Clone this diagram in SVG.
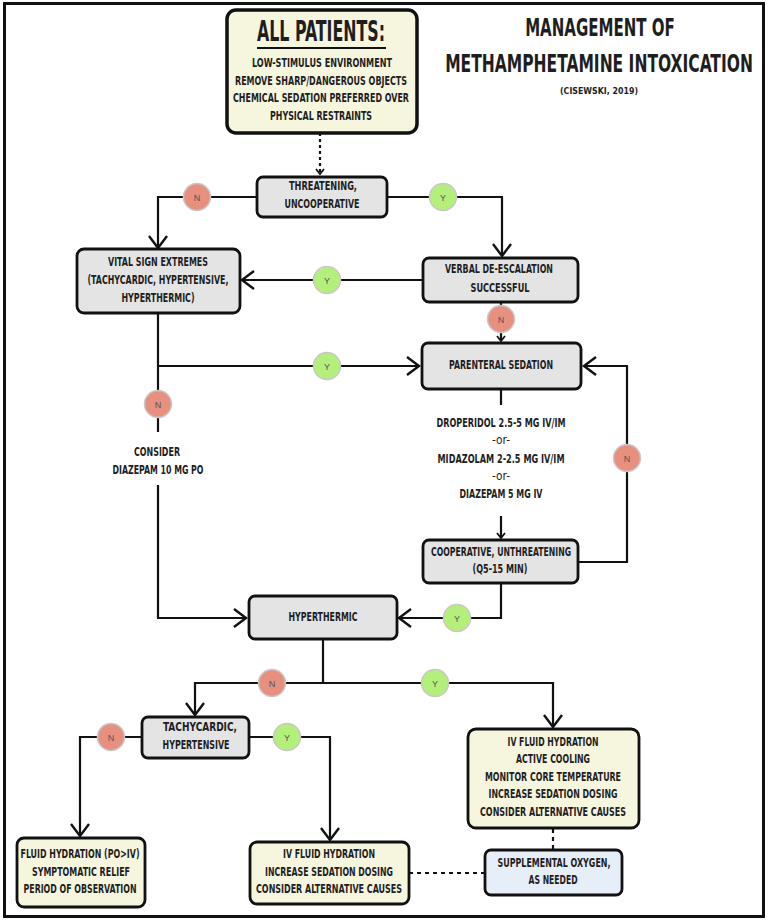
<svg xmlns="http://www.w3.org/2000/svg" width="768" height="922" viewBox="0 0 768 922">
<style>
.t{font-family:"Liberation Sans Narrow","DejaVu Sans Condensed","Liberation Sans",sans-serif;font-weight:bold;font-size:13px;fill:#1e1e1e;text-anchor:middle}
.box{stroke:#111;stroke-width:2.8}
.gray{fill:#e4e4e4}
.cream{fill:#f6f5de}
.blue{fill:#e6eef7}
.ln{fill:none;stroke:#111;stroke-width:2.2}
.dash{fill:none;stroke:#111;stroke-width:2.2;stroke-dasharray:4 4}
.cn{fill:#e8907f;stroke:#c8c8c8;stroke-width:1.5}
.cy{fill:#b4ef7b;stroke:#c8c8c8;stroke-width:1.5}
.cl{font-family:"Liberation Sans",sans-serif;font-size:9px;fill:#555;text-anchor:middle}
</style>
<defs>
<marker id="big" markerUnits="userSpaceOnUse" markerWidth="30" markerHeight="30" viewBox="-15 -15 30 30" refX="0" refY="0" orient="auto">
<path d="M-12,-9 L0,0 L-12,9" fill="none" stroke="#111" stroke-width="2.4" stroke-linejoin="miter"/>
</marker>
<marker id="small" markerUnits="userSpaceOnUse" markerWidth="20" markerHeight="20" viewBox="-10 -10 20 20" refX="0" refY="0" orient="auto">
<path d="M-5,-4 L0,0 L-5,4" fill="none" stroke="#111" stroke-width="1.8"/>
</marker>
</defs>
<rect x="0" y="0" width="768" height="922" fill="#fff"/>
<rect x="4.5" y="3.5" width="759" height="913" fill="none" stroke="#111" stroke-width="3"/>

<g id="title">
<text class="t" x="0" y="0" transform="translate(600,36) scale(0.69,1)" style="font-size:24px" textLength="217" lengthAdjust="spacingAndGlyphs">MANAGEMENT OF</text>
<text class="t" x="0" y="0" transform="translate(599,72) scale(0.69,1)" style="font-size:24px" textLength="446" lengthAdjust="spacingAndGlyphs">METHAMPHETAMINE INTOXICATION</text>
<text class="t" x="599" y="94" style="font-size:9.5px" textLength="78" lengthAdjust="spacingAndGlyphs">(CISEWSKI, 2019)</text>
</g>

<g id="connectors">
<path class="ln" d="M320,133 V174" stroke-dasharray="3 3" marker-end="url(#small)"/>
<path class="ln" d="M257,197 H158 V248" marker-end="url(#big)"/>
<path class="ln" d="M387,197 H502 V256" marker-end="url(#big)"/>
<path class="ln" d="M423,280 H242" marker-end="url(#big)"/>
<path class="ln" d="M501,302 V341" marker-end="url(#small)"/>
<path class="ln" d="M158,313 V432"/>
<path class="ln" d="M158,485 V618 H246" marker-end="url(#big)"/>
<path class="ln" d="M158,366 H419" marker-end="url(#big)"/>
<path class="ln" d="M501,389 V405"/>
<path class="ln" d="M501,516 V538" marker-end="url(#small)"/>
<path class="ln" d="M578,562 H627 V366 H584" marker-end="url(#big)"/>
<path class="ln" d="M501,583 V618 H399" marker-end="url(#big)"/>
<path class="ln" d="M323,639 V683"/>
<path class="ln" d="M323,683 H195 V715" marker-end="url(#big)"/>
<path class="ln" d="M323,683 H553 V727" marker-end="url(#big)"/>
<path class="ln" d="M142,737 H80 V836" marker-end="url(#big)"/>
<path class="ln" d="M249,737 H330 V840" marker-end="url(#big)"/>
<path class="dash" d="M553,829 V850" stroke-dasharray="3 3"/>
<path class="dash" d="M409,873 H485"/>
</g>

<g id="labels">
<circle class="cn" cx="197" cy="197" r="13.5"/><text class="cl" x="197" y="200.5">N</text>
<circle class="cy" cx="443" cy="197" r="13.5"/><text class="cl" x="443" y="200.5">Y</text>
<circle class="cy" cx="327" cy="280" r="13.5"/><text class="cl" x="327" y="283.5">Y</text>
<circle class="cn" cx="501" cy="319" r="13.5"/><text class="cl" x="501" y="322.5">N</text>
<circle class="cy" cx="327" cy="366" r="13.5"/><text class="cl" x="327" y="369.5">Y</text>
<circle class="cn" cx="158" cy="404" r="13.5"/><text class="cl" x="158" y="407.5">N</text>
<circle class="cn" cx="627" cy="458" r="13.5"/><text class="cl" x="627" y="461.5">N</text>
<circle class="cy" cx="457" cy="618" r="13.5"/><text class="cl" x="457" y="621.5">Y</text>
<circle class="cn" cx="272" cy="683" r="13.5"/><text class="cl" x="272" y="686.5">N</text>
<circle class="cy" cx="435" cy="683" r="13.5"/><text class="cl" x="435" y="686.5">Y</text>
<circle class="cn" cx="111" cy="737" r="13.5"/><text class="cl" x="111" y="740.5">N</text>
<circle class="cy" cx="287" cy="737" r="13.5"/><text class="cl" x="287" y="740.5">Y</text>
</g>

<g id="all-patients">
<rect class="box cream" x="227" y="10" width="190" height="123" rx="9" style="stroke-width:3.5"/>
<text class="t" x="321" y="41" style="font-size:29px" textLength="128" lengthAdjust="spacingAndGlyphs">ALL PATIENTS:</text>
<line x1="257" y1="48" x2="386" y2="48" stroke="#111" stroke-width="2"/>
<text class="t" x="322" y="66.5" textLength="140" lengthAdjust="spacingAndGlyphs">LOW-STIMULUS ENVIRONMENT</text>
<text class="t" x="321" y="84.5" textLength="172" lengthAdjust="spacingAndGlyphs">REMOVE SHARP/DANGEROUS OBJECTS</text>
<text class="t" x="321" y="102" textLength="176" lengthAdjust="spacingAndGlyphs">CHEMICAL SEDATION PREFERRED OVER</text>
<text class="t" x="321" y="119.5" textLength="102" lengthAdjust="spacingAndGlyphs">PHYSICAL RESTRAINTS</text>
</g>

<g id="threatening">
<rect class="box gray" x="257" y="177" width="130" height="40" rx="6"/>
<text class="t" x="323" y="189.5" textLength="68" lengthAdjust="spacingAndGlyphs">THREATENING,</text>
<text class="t" x="322" y="207.5" textLength="75" lengthAdjust="spacingAndGlyphs">UNCOOPERATIVE</text>
</g>

<g id="vital-signs">
<rect class="box gray" x="77" y="249" width="163" height="64" rx="7"/>
<text class="t" x="158" y="265.5" textLength="100" lengthAdjust="spacingAndGlyphs">VITAL SIGN EXTREMES</text>
<text class="t" x="158" y="283.5" textLength="141" lengthAdjust="spacingAndGlyphs">(TACHYCARDIC, HYPERTENSIVE,</text>
<text class="t" x="158" y="301.5" textLength="73" lengthAdjust="spacingAndGlyphs">HYPERTHERMIC)</text>
</g>

<g id="verbal">
<rect class="box gray" x="423" y="258" width="155" height="44" rx="6"/>
<text class="t" x="499" y="272.5" textLength="108" lengthAdjust="spacingAndGlyphs">VERBAL DE-ESCALATION</text>
<text class="t" x="500" y="291.5" textLength="59" lengthAdjust="spacingAndGlyphs">SUCCESSFUL</text>
</g>

<g id="parenteral">
<rect class="box gray" x="422" y="343" width="159" height="46" rx="6"/>
<text class="t" x="501" y="368.5" textLength="104" lengthAdjust="spacingAndGlyphs">PARENTERAL SEDATION</text>
</g>

<g id="drugs">
<text class="t" x="501" y="426.5" textLength="129" lengthAdjust="spacingAndGlyphs">DROPERIDOL 2.5-5 MG IV/IM</text>
<text class="t" x="501" y="443.5" style="font-weight:normal" textLength="18" lengthAdjust="spacingAndGlyphs">-or-</text>
<text class="t" x="501" y="462.5" textLength="127" lengthAdjust="spacingAndGlyphs">MIDAZOLAM 2-2.5 MG IV/IM</text>
<text class="t" x="501" y="479.5" style="font-weight:normal" textLength="18" lengthAdjust="spacingAndGlyphs">-or-</text>
<text class="t" x="501" y="497.5" textLength="83" lengthAdjust="spacingAndGlyphs">DIAZEPAM 5 MG IV</text>
</g>

<g id="consider-diazepam">
<text class="t" x="157" y="455.5" textLength="46" lengthAdjust="spacingAndGlyphs">CONSIDER</text>
<text class="t" x="158" y="473.5" textLength="91" lengthAdjust="spacingAndGlyphs">DIAZEPAM 10 MG PO</text>
</g>

<g id="cooperative">
<rect class="box gray" x="423" y="540" width="155" height="43" rx="6"/>
<text class="t" x="501" y="555.5" textLength="140" lengthAdjust="spacingAndGlyphs">COOPERATIVE, UNTHREATENING</text>
<text class="t" x="500" y="572.5" textLength="55" lengthAdjust="spacingAndGlyphs">(Q5-15 MIN)</text>
</g>

<g id="hyperthermic">
<rect class="box gray" x="249" y="596" width="148" height="43" rx="6"/>
<text class="t" x="323" y="620.5" textLength="69" lengthAdjust="spacingAndGlyphs">HYPERTHERMIC</text>
</g>

<g id="tachycardic">
<rect class="box gray" x="142" y="717" width="107" height="41" rx="6"/>
<text class="t" x="200" y="730.5" textLength="74" lengthAdjust="spacingAndGlyphs">TACHYCARDIC,</text>
<text class="t" x="196" y="748.5" textLength="67" lengthAdjust="spacingAndGlyphs">HYPERTENSIVE</text>
</g>

<g id="fluid-po">
<rect class="box cream" x="17" y="838" width="128" height="69" rx="7"/>
<text class="t" x="80" y="857.5" textLength="119" lengthAdjust="spacingAndGlyphs">FLUID HYDRATION (PO&gt;IV)</text>
<text class="t" x="81" y="875.5" textLength="98" lengthAdjust="spacingAndGlyphs">SYMPTOMATIC RELIEF</text>
<text class="t" x="80" y="892.5" textLength="113" lengthAdjust="spacingAndGlyphs">PERIOD OF OBSERVATION</text>
</g>

<g id="iv-fluid-left">
<rect class="box cream" x="250" y="842" width="159" height="62" rx="7"/>
<text class="t" x="329" y="857.5" textLength="92" lengthAdjust="spacingAndGlyphs">IV FLUID HYDRATION</text>
<text class="t" x="329" y="875.5" textLength="128" lengthAdjust="spacingAndGlyphs">INCREASE SEDATION DOSING</text>
<text class="t" x="329" y="892.5" textLength="146" lengthAdjust="spacingAndGlyphs">CONSIDER ALTERNATIVE CAUSES</text>
</g>

<g id="iv-fluid-right">
<rect class="box cream" x="468" y="729" width="171" height="99" rx="8"/>
<text class="t" x="553" y="745.5" textLength="91" lengthAdjust="spacingAndGlyphs">IV FLUID HYDRATION</text>
<text class="t" x="553" y="763" textLength="74" lengthAdjust="spacingAndGlyphs">ACTIVE COOLING</text>
<text class="t" x="553" y="780.5" textLength="136" lengthAdjust="spacingAndGlyphs">MONITOR CORE TEMPERATURE</text>
<text class="t" x="553" y="798" textLength="129" lengthAdjust="spacingAndGlyphs">INCREASE SEDATION DOSING</text>
<text class="t" x="553" y="815.5" textLength="146" lengthAdjust="spacingAndGlyphs">CONSIDER ALTERNATIVE CAUSES</text>
</g>

<g id="supplemental-oxygen">
<rect class="box blue" x="485" y="850" width="137" height="45" rx="6"/>
<text class="t" x="554" y="866.5" textLength="113" lengthAdjust="spacingAndGlyphs">SUPPLEMENTAL OXYGEN,</text>
<text class="t" x="553" y="883.5" textLength="49" lengthAdjust="spacingAndGlyphs">AS NEEDED</text>
</g>
</svg>
